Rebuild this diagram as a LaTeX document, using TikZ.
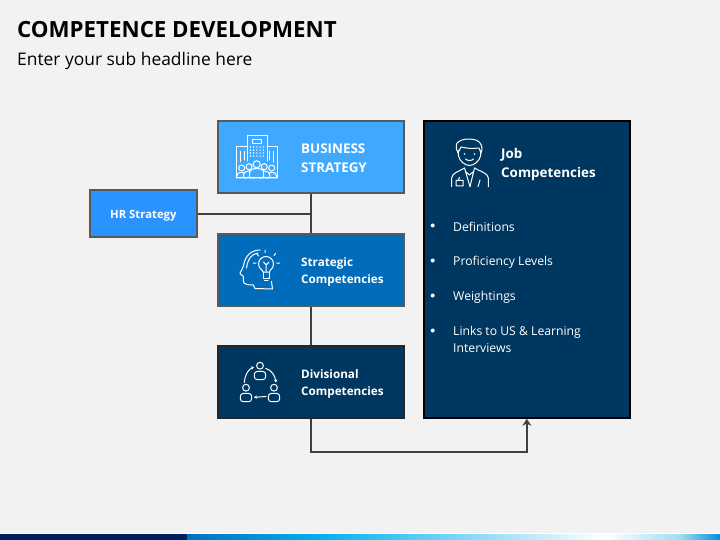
\documentclass[tikz,border=0pt]{standalone}
\usepackage{fontspec}
\setmainfont{Open Sans}
\usetikzlibrary{arrows.meta}
\definecolor{pagegray}{HTML}{F2F2F2}
\definecolor{businessblue}{HTML}{3FA9FF}
\definecolor{hrblue}{HTML}{2A93FF}
\definecolor{strategicblue}{HTML}{006CBB}
\definecolor{navyblue}{HTML}{003760}
\definecolor{footnavy}{HTML}{002060}
\definecolor{footblue}{HTML}{0070C0}
\definecolor{footcyan}{HTML}{00B0F0}
\definecolor{footend}{HTML}{0090D8}
\definecolor{footpale}{HTML}{9FDDF5}
\begin{document}
\begin{tikzpicture}[x=1pt, y=-1pt,
            box/.style={draw=#1, line width=2pt, minimum width=186pt, minimum height=72pt, inner sep=0pt},
            boxlabel/.style={anchor=west, align=left, text=white, font=\bfseries\fontsize{11.7}{17}\selectfont, inner sep=0pt},
            biglabel/.style={boxlabel, font=\bfseries\fontsize{13.4}{19}\selectfont},
            itemlabel/.style={anchor=west, align=left, text=white, font=\fontsize{12.2}{17}\selectfont, inner sep=0pt},
            bullet/.style={circle, fill=white, minimum size=4pt, inner sep=0pt},
            link/.style={draw=black!75, line width=2pt},
            icon/.style={draw=white, line width=1pt, line cap=round, line join=round},
            tip/.style={->, >={Stealth[length=3pt,width=3.5pt]}},
            >={Stealth[length=7pt,width=9pt]}]
    \useasboundingbox (0,0) rectangle (720,540);
    \fill[pagegray] (0,0) rectangle (720,540);
    % footer band
    \fill[white] (0,533) rectangle (720,534);
    \fill[footnavy] (0,534) rectangle (187,540);
    \shade[left color=footblue, right color=footcyan] (187,534) rectangle (320,540);
    \shade[left color=footcyan, right color=white] (320,534) rectangle (605,540);
    \shade[left color=white, right color=footpale] (605,534) rectangle (680,540);
    \shade[left color=footpale, right color=footend] (680,534) rectangle (720,540);
    % headings
    \node[anchor=west, inner sep=0pt, font=\bfseries\fontsize{22.3}{28}\selectfont] (title) at (17,29.5) {COMPETENCE DEVELOPMENT};
    \node[anchor=west, inner sep=0pt, font=\fontsize{17.4}{21}\selectfont] (subtitle) at (17,61) {Enter your sub headline here};
    % boxes
    \node[box=black!65, fill=businessblue] (business) at (310.8,157) {};
    \node[box=black!65, fill=strategicblue] (strategic) at (310.8,269.5) {};
    \node[box=black!85, fill=navyblue] (divisional) at (310.8,381.9) {};
    \node[box=black!65, fill=hrblue, minimum width=106.6pt, minimum height=46.6pt] (hr) at (143.5,213.7) {};
    \node[box=black, fill=navyblue, minimum width=206.4pt, minimum height=297pt] (job) at (526.8,269.3) {};
    % connectors
    \draw[link] (business) -- (strategic);
    \draw[link] (strategic) -- (divisional);
    \draw[link] (hr.east) -- (hr.east -| business.south);
    \draw[link, ->] (divisional.south) -- ++(0,33) -| (job.south);
    % texts
    \node[biglabel] (businesslabel) at (301,158.5) {BUSINESS\\STRATEGY};
    \node[boxlabel] (strategiclabel) at (301,271.5) {Strategic\\Competencies};
    \node[boxlabel] (divisionallabel) at (301,383.5) {Divisional\\Competencies};
    \node[boxlabel, font=\bfseries\fontsize{11.3}{17}\selectfont] (hrlabel) at (110,215.5) {HR Strategy};
    \node[biglabel] (joblabel) at (501,164.5) {Job\\Competencies};
    \node[bullet] (bulleta) at (432.7,225.5) {};
    \node[bullet] (bulletb) at (432.7,260.5) {};
    \node[bullet] (bulletc) at (432.7,295.5) {};
    \node[bullet] (bulletd) at (432.7,330.5) {};
    \node[itemlabel] (itema) at (453,226.5) {Definitions};
    \node[itemlabel] (itemb) at (453,262) {Proficiency Levels};
    \node[itemlabel] (itemc) at (453,297) {Weightings};
    \node[itemlabel] (itemd) at (453,339.5) {Links to US \& Learning\\Interviews};
    % building icon
    \draw[icon] (247,161) -- (247,136) -- (267,136) -- (267,161);
    \draw[icon] (252,140) rectangle (261,144);
    \foreach \i in {0,...,4}
        \foreach \j in {0,...,3}
            \fill[white] (250.5+\i*3.2,147+\j*3) circle (.8pt);
    \draw[icon] (236,178) -- (236,147) -- (247,147);
    \draw[icon] (267,147) -- (277,147) -- (277,178);
    \draw[icon] (240,151.5) -- (240,162) (244.3,151.5) -- (244.3,160) (269,151.5) -- (269,160) (273.3,151.5) -- (273.3,162);
    \foreach \px/\py/\pr/\pw in {241.7/168/3/5,271.7/168/3/5,249/166.7/3/5.5,264.3/166.7/3/5.5,256.7/164.3/3.6/7} {
        \draw[icon, fill=businessblue] (\px-\pw,178) -- (\px-\pw,\py+8) .. controls (\px-\pw,\py+3) and (\px+\pw,\py+3) .. (\px+\pw,\py+8) -- (\px+\pw,178) -- cycle;
        \draw[icon, fill=businessblue] (\px,\py) circle (\pr pt);
    }
    \draw[icon] (236,178) -- (277,178);
    % head icon
    \draw[icon] (260,250) .. controls (252,250) and (245,255) .. (243.5,266) .. controls (243,269) and (240,272) .. (240,273.5) -- (243.3,276.5) -- (243.3,281) .. controls (243.3,284) and (247,285) .. (253.3,285) -- (255,288.5) -- (272.5,289) -- (271.5,281.5);
    \draw[icon] (246.5,268) .. controls (248,258) and (252,254) .. (258,253);
    \draw[icon] (263,272) .. controls (263,269.5) and (258.5,269) .. (258.5,264) arc[start angle=180, end angle=0, radius=7.5pt] .. controls (273.5,269) and (269.5,269.5) .. (269.5,272) -- cycle;
    \draw[icon] (263,272) -- (263,278) -- (269.5,278) -- (269.5,272) (264.5,280.5) -- (268,280.5);
    \draw[icon] (266.2,272) -- (266.2,264) (263.5,262) -- (266.2,265) -- (269,262);
    \draw[icon] (265,250) -- (265,252.5) (257,254) -- (258.5,256) (275.5,253.5) -- (274,255.5) (253,263) -- (256,263) (276.5,263) -- (279.5,263);
    % team icon
    \foreach \hx/\hy in {260/365.7,246/387.7,274/387.7} {
        \draw[icon] (\hx,\hy) circle (3.4pt);
        \draw[icon, rounded corners=3pt] (\hx-5.7,\hy+5.7) rectangle (\hx+5.7,\hy+14);
    }
    \draw[icon, tip] (244.3,382.5) .. controls (245,374) and (249,369) .. (254,367);
    \draw[icon, tip] (265.7,368.3) .. controls (271,370) and (275,375) .. (276,382.5);
    \draw[icon, tip] (266,396.5) -- (254,397.3);
    % person icon
    \draw[icon] (458,150) -- (458.5,156) .. controls (459.5,161) and (465,165.5) .. (469.5,165.5) .. controls (474,165.5) and (479.5,161) .. (480.5,156) -- (481,150);
    \draw[icon] (458,153) .. controls (455,148) and (456,142) .. (459,141.5) .. controls (463,138) and (477,138) .. (480,143) .. controls (482.5,146) and (482.5,150) .. (481,153) -- (479,148) .. controls (472,149) and (465,148) .. (461,147) -- (458,153);
    \fill[white] (464.5,154) circle (.8pt) (474.5,154) circle (.8pt);
    \draw[icon] (465.5,159) .. controls (467.5,161) and (471.5,161) .. (473.5,159);
    \draw[icon] (451.7,186.7) -- (451.7,178) .. controls (451.7,173) and (460,171) .. (464.5,168) (488.3,186.7) -- (488.3,178) .. controls (488.3,173) and (479,171) .. (474.5,168);
    \draw[icon] (464.5,168) -- (470,186.7) -- (474.5,168) (466,172) -- (469.5,175) -- (473,172);
    \draw[icon] (456,180.5) rectangle (463,186) (458,180.5) -- (459.5,177.5);
    \draw[icon] (478,186.7) -- (480,180);
\end{tikzpicture}
\end{document}
